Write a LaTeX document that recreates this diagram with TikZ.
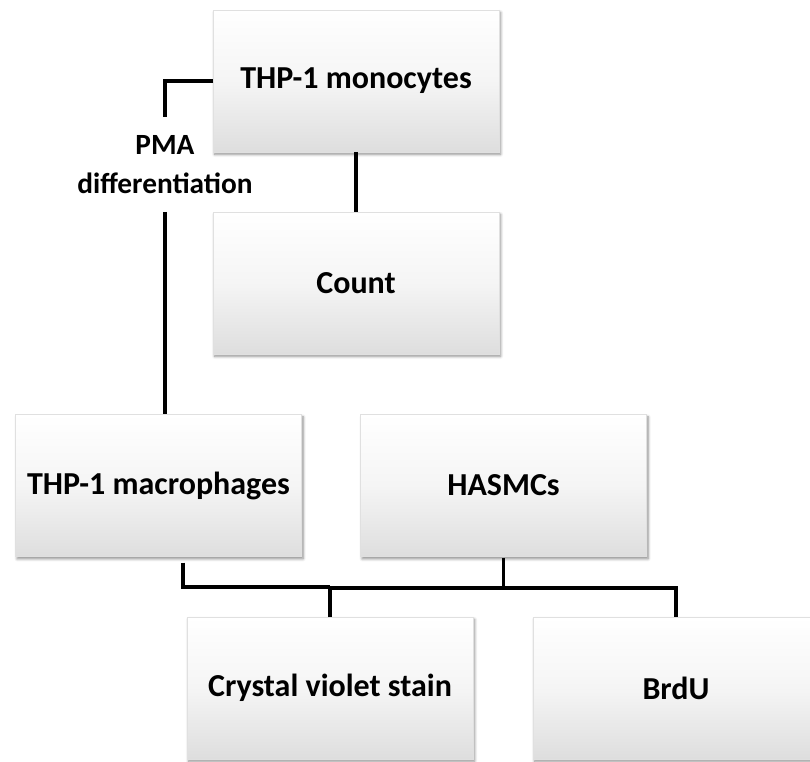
\documentclass[tikz,border=0pt]{standalone}
\usepackage{fontspec}
\setmainfont{Carlito}
\usetikzlibrary{shadows.blur}

\begin{document}
\begin{tikzpicture}[x=0.75pt,y=-0.75pt]
  \tikzset{BoxStyle/.style = {
    shape         = rectangle,
    draw          = black!12,
    line width    = 0.4pt,
    top color     = white,
    bottom color  = black!13,
    middle color  = white!96!black,
    text          = black,
    font          = \fontsize{24}{29}\selectfont\bfseries,
    inner sep     = 0pt,
    outer sep     = 0pt,
    minimum width = 214.5pt,
    minimum height= 106.5pt,
    blur shadow   = {shadow xshift=1.2pt, shadow yshift=-1.8pt,
                     shadow blur radius=2pt, shadow blur steps=6,
                     shadow opacity=45}
    }
  }
  \tikzset{LabelStyle/.style = {
    shape         = rectangle,
    text          = black,
    align         = center,
    font          = \fontsize{22}{29}\selectfont\bfseries,
    inner sep     = 0pt,
    outer sep     = 0pt,
    minimum height= 71pt
    }
  }
  \tikzset{EdgeStyle/.style = {
    draw          = black,
    line width    = 2.8pt
    }
  }

  \useasboundingbox (0,0) rectangle (810,762);

  \node[BoxStyle](Mono) at (356, 81) {THP-1 monocytes};
  \node[BoxStyle](Count) at (356, 283) {Count};
  \node[BoxStyle](Macro) at (158.5, 485.5) {THP-1 macrophages};
  \node[BoxStyle](Hasmc) at (503.5, 485.5) {HASMCs};
  \node[BoxStyle](Crystal) at (330, 688) {Crystal violet stain};
  \node[BoxStyle](Brdu) at (676, 688) {BrdU};
  \node[LabelStyle](Pma) at (165, 164.5) {PMA\\differentiation};

  \coordinate (MacroFoot) at (183, 587);
  \coordinate (HasmcFoot) at (503.5, 588);

  \draw[EdgeStyle](Mono.west) -| (Pma.north);
  \draw[EdgeStyle](Pma.south) -- (Pma.south |- Macro.north);
  \draw[EdgeStyle](Mono.south) -- (Count.north);
  \draw[EdgeStyle]([yshift=-4.5pt]Macro.south -| MacroFoot) -- (MacroFoot) -- (MacroFoot -| Crystal.north);
  \draw[EdgeStyle]([yshift=-1pt]Hasmc.south) -- (HasmcFoot);
  \draw[EdgeStyle](Crystal.north) -- (Crystal.north |- HasmcFoot) -- (Brdu.north |- HasmcFoot) -- (Brdu.north);

\end{tikzpicture}
\end{document}
